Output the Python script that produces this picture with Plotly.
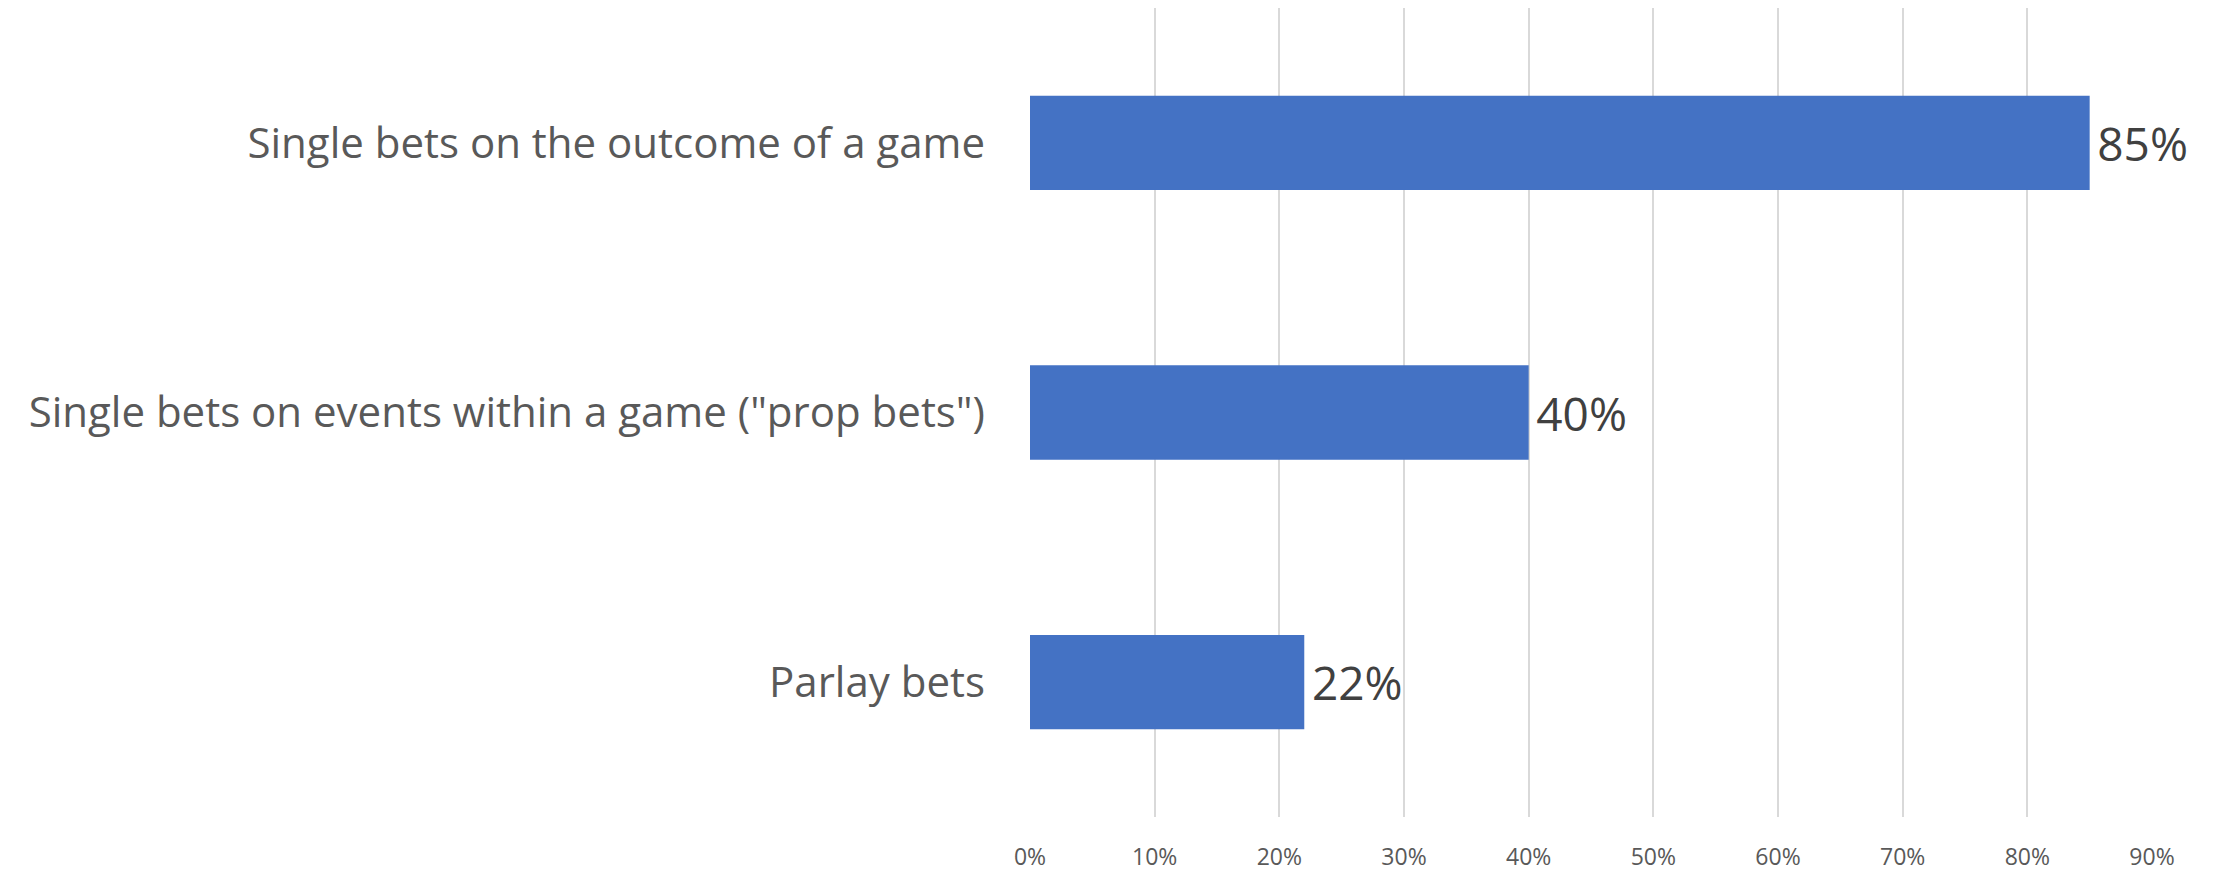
import plotly.graph_objects as go

categories = [
    "Single bets on the outcome of a game",
    'Single bets on events within a game ("prop bets")',
    "Parlay bets",
]
values = [0.85, 0.40, 0.22]
tick_vals = [0, 0.1, 0.2, 0.3, 0.4, 0.5, 0.6, 0.7, 0.8, 0.9]
tick_text = ["0%", "10%", "20%", "30%", "40%", "50%", "60%", "70%", "80%", "90%"]
value_labels = ["85%", "40%", "22%"]

FONT = "Open Sans"

fig = go.Figure(
    go.Bar(
        x=values,
        y=categories,
        orientation="h",
        marker=dict(color="#4472C4", line=dict(width=0)),
        text=["\u200a" + t for t in value_labels],
        textposition="outside",
        textfont=dict(family=FONT, size=46, color="#404040"),
        cliponaxis=False,
        width=0.35,
    )
)

fig.update_layout(
    width=2208,
    height=864,
    margin=dict(l=1022, r=64, t=0, b=55, autoexpand=False),
    paper_bgcolor="white",
    plot_bgcolor="white",
    showlegend=False,
    xaxis=dict(
        range=[0, 0.9],
        tickvals=tick_vals,
        ticktext=tick_text,
        showgrid=True,
        gridcolor="#D9D9D9",
        gridwidth=2,
        zeroline=False,
        showline=False,
        tickfont=dict(family=FONT, size=23, color="#595959"),
        ticklabelstandoff=24,
        fixedrange=True,
    ),
    yaxis=dict(
        categoryorder="array",
        categoryarray=categories,
        autorange="reversed",
        showgrid=False,
        zeroline=False,
        showline=False,
        tickfont=dict(family=FONT, size=42, color="#595959"),
        ticklabelstandoff=44,
        fixedrange=True,
    ),
)

fig.write_html("out.html")
